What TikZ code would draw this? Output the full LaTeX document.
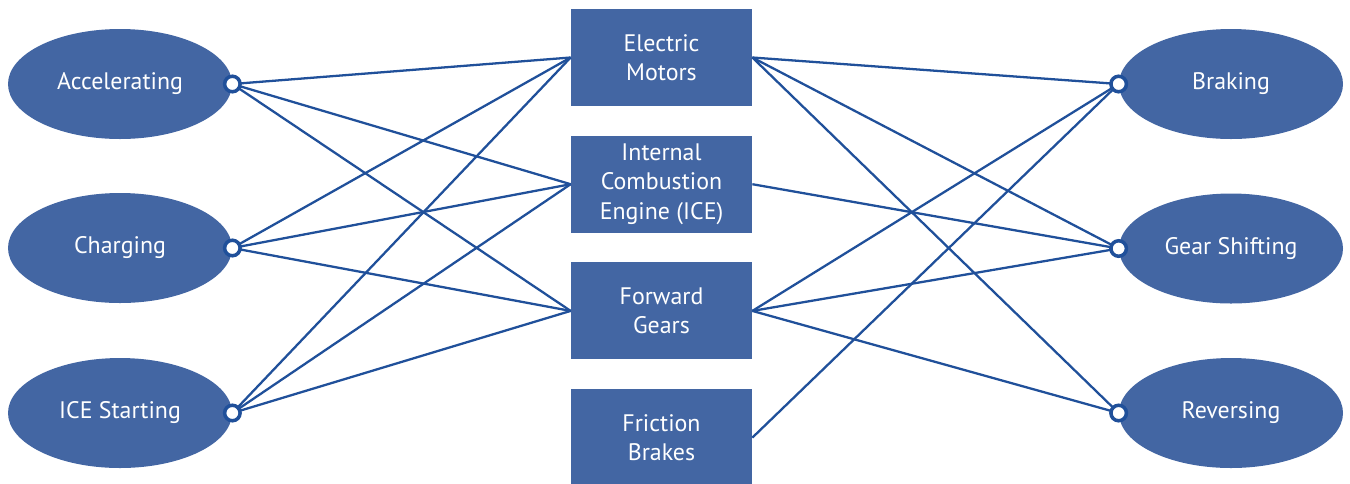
\documentclass[tikz,border=0pt]{standalone}
\usepackage{fontspec}
\setmainfont{PT Sans}
\usepackage{tikz}
\usetikzlibrary{positioning, shapes.geometric}
\definecolor{boxblue}{RGB}{67,102,163}
\definecolor{linkblue}{RGB}{32,80,154}
\tikzset{
    partbox/.style={fill=boxblue, text=white, align=center, minimum width=3.62cm, minimum height=1.94cm, inner sep=2pt, font=\fontsize{13.6}{16.8}\selectfont},
    modeellipse/.style={ellipse, fill=boxblue, text=white, minimum width=4.48cm, minimum height=2.2cm, inner sep=0pt, font=\fontsize{13.6}{16.8}\selectfont},
    port/.style={circle, draw=linkblue, fill=white, line width=2pt, inner sep=0pt, minimum size=0.31cm},
    link/.style={draw=linkblue, line width=1.3pt}
}
\begin{document}
\begin{tikzpicture}[node distance=0.58cm]
  \useasboundingbox (0,0) rectangle (27,-9.66);
  % vehicle parts in the middle
  \node(EM)[partbox] at (13.23,-1.15){Electric\\Motors};
  \node(ICE)[partbox, below=of EM]{Internal\\Combustion\\Engine (ICE)};
  \node(FG)[partbox, below=of ICE]{Forward\\Gears};
  \node(FB)[partbox, below=of FG]{Friction\\Brakes};
  % operating modes
  \node(Acc)[modeellipse] at (2.4,-1.68){Accelerating};
  \node(Chg)[modeellipse] at (2.4,-4.96){Charging};
  \node(Sta)[modeellipse] at (2.4,-8.26){ICE Starting};
  \node(Brk)[modeellipse] at (24.62,-1.68){Braking};
  \node(Gsh)[modeellipse] at (24.62,-4.97){Gear Shifting};
  \node(Rev)[modeellipse] at (24.62,-8.26){Reversing};
  % connectors
  \draw[link](Acc.east)--(EM.west);
  \draw[link](Acc.east)--(ICE.west);
  \draw[link](Acc.east)--(FG.west);
  \draw[link](Chg.east)--(EM.west);
  \draw[link](Chg.east)--(ICE.west);
  \draw[link](Chg.east)--(FG.west);
  \draw[link](Sta.east)--(EM.west);
  \draw[link](Sta.east)--(ICE.west);
  \draw[link](Sta.east)--(FG.west);
  \draw[link](EM.east)--(Brk.west);
  \draw[link](EM.east)--(Gsh.west);
  \draw[link](EM.east)--(Rev.west);
  \draw[link](ICE.east)--(Gsh.west);
  \draw[link](FG.east)--(Brk.west);
  \draw[link](FG.east)--(Gsh.west);
  \draw[link](FG.east)--(Rev.west);
  \draw[link](FB.east)--(Brk.west);
  % ports
  \node(AccP)[port] at (Acc.east){};
  \node(ChgP)[port] at (Chg.east){};
  \node(StaP)[port] at (Sta.east){};
  \node(BrkP)[port] at (Brk.west){};
  \node(GshP)[port] at (Gsh.west){};
  \node(RevP)[port] at (Rev.west){};
\end{tikzpicture}
\end{document}
